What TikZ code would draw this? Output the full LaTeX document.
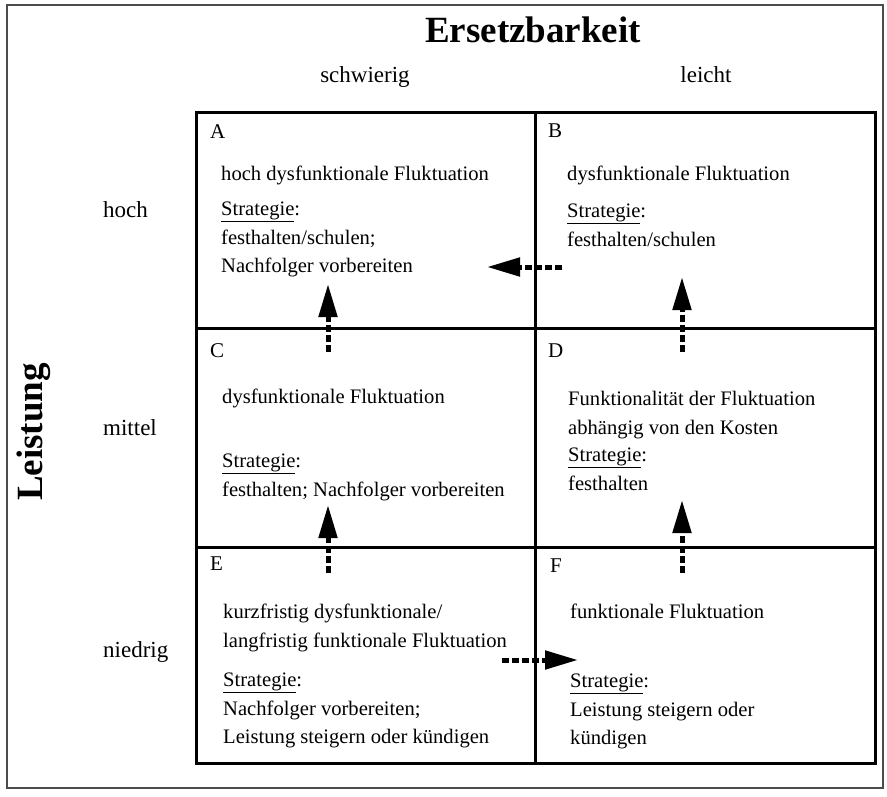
\documentclass[tikz,border=0pt]{standalone}
\usepackage{fontspec}
\setmainfont{Liberation Serif}
\usetikzlibrary{arrows.meta}
\newcommand{\strat}{\underline{Strategie}:}
\tikzset{
  gridline/.style={line width=3pt},
  cellletter/.style={anchor=base west, inner sep=0pt, font=\fontsize{21}{25}\selectfont},
  celltext/.style={anchor=north west, align=left, inner sep=0pt, font=\fontsize{20.6}{28.5}\selectfont},
  axislabel/.style={inner sep=0pt, font=\fontsize{23}{27}\selectfont},
  axistitle/.style={inner sep=0pt, font=\fontsize{37}{40}\selectfont\bfseries},
  move/.style={line width=5pt, dash pattern=on 7pt off 3pt, -{Triangle[length=33pt,width=18pt]}}
}

\begin{document}
\begin{tikzpicture}[x=1pt,y=-1pt]
\useasboundingbox (0,0) rectangle (887,796);
% frame
\draw[black!70, line width=1.2pt] (7,5) rectangle (883,788);
% headings
\node[axistitle, anchor=base] (title) at (533,42) {Ersetzbarkeit};
\node[axislabel, anchor=base] (hard) at (365,82) {schwierig};
\node[axislabel, anchor=base] (easy) at (706,82) {leicht};
\node[axistitle, rotate=90] (perf) at (34,432) {Leistung};
\node[axislabel, anchor=base west] (high) at (103,217) {hoch};
\node[axislabel, anchor=base west] (mid) at (103,435) {mittel};
\node[axislabel, anchor=base west] (low) at (103,657) {niedrig};
% grid
\draw[gridline] (196,112) rectangle (875,763);
\draw[gridline] (535,112) -- (535,763);
\draw[gridline] (196,328) -- (875,328) (196,547) -- (875,547);
% cells
\node[cellletter] (la) at (210,138) {A};
\node[celltext] (da) at (221,166) {hoch dysfunktionale Fluktuation};
\node[celltext] (sa) at (221,202) {\strat\\festhalten/schulen;\\Nachfolger vorbereiten};
\node[cellletter] (lb) at (548,137) {B};
\node[celltext] (db) at (567,166) {dysfunktionale Fluktuation};
\node[celltext] (sb) at (567,204) {\strat\\festhalten/schulen};
\node[cellletter] (lc) at (210,357) {C};
\node[celltext] (dc) at (222,389) {dysfunktionale Fluktuation};
\node[celltext] (sc) at (222,454) {\strat\\festhalten; Nachfolger vorbereiten};
\node[cellletter] (ld) at (548,357) {D};
\node[celltext] (dd) at (568,391) {Funktionalität der Fluktuation\\abhängig von den Kosten};
\node[celltext] (sd) at (568,448) {\strat\\festhalten};
\node[cellletter] (le) at (210,570) {E};
\node[celltext] (de) at (223,604) {kurzfristig dysfunktionale/\\langfristig funktionale Fluktuation};
\node[celltext] (se) at (223,673) {\strat\\Nachfolger vorbereiten;\\Leistung steigern oder kündigen};
\node[cellletter] (lf) at (550,572) {F};
\node[celltext] (df) at (570,604) {funktionale Fluktuation};
\node[celltext] (sf) at (570,674) {\strat\\Leistung steigern oder\\kündigen};
% arrows
\coordinate (ba0) at (562,267); \coordinate (ba1) at (487,267);
\coordinate (ca0) at (328,352); \coordinate (ca1) at (328,284);
\coordinate (db0) at (682,352); \coordinate (db1) at (682,277);
\coordinate (ec0) at (328,573); \coordinate (ec1) at (328,505);
\coordinate (fd0) at (682,573); \coordinate (fd1) at (682,500);
\coordinate (ef0) at (502,660); \coordinate (ef1) at (578,660);
\draw[move] (ba0) -- (ba1);
\draw[move] (ca0) -- (ca1);
\draw[move] (db0) -- (db1);
\draw[move] (ec0) -- (ec1);
\draw[move] (fd0) -- (fd1);
\draw[move] (ef0) -- (ef1);
\end{tikzpicture}
\end{document}
